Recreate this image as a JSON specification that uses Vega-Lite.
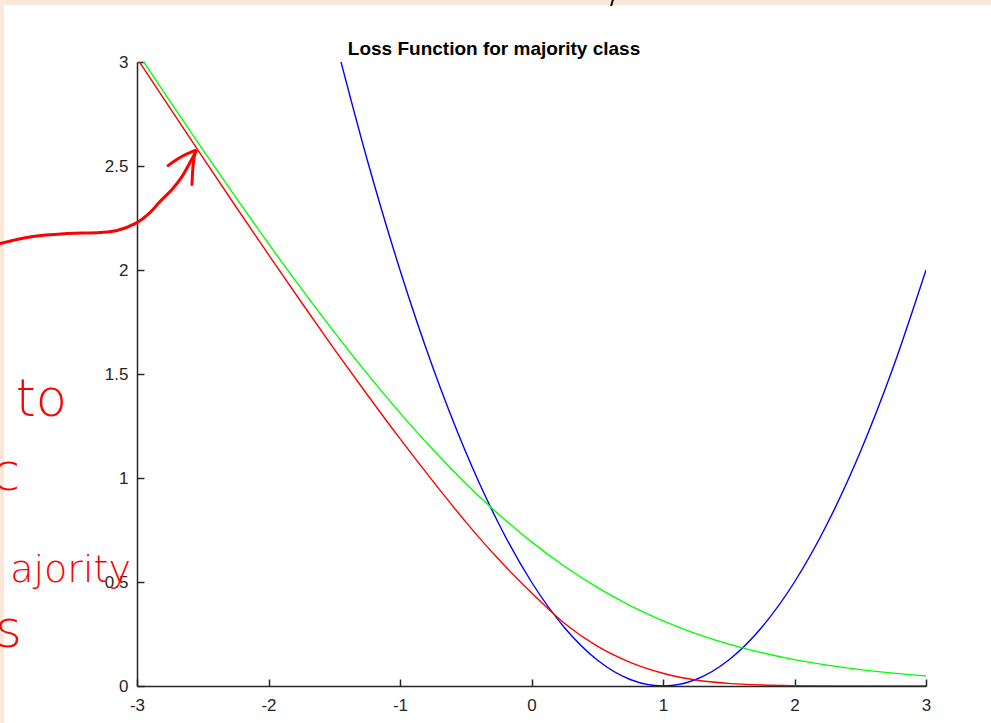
{
  "$schema": "https://vega.github.io/schema/vega-lite/v6.json",
  "width": 789,
  "height": 624,
  "autosize": {"type": "none"},
  "padding": {"left": 137, "top": 62, "right": 65, "bottom": 37},
  "background": "#ffffff",
  "config": {"view": {"stroke": null}, "font": "Liberation Sans"},
  "datasets": {
    "paper": [
      {"part": "top", "x": -4.2, "x2": 3.7, "y": 3.274, "y2": 3.45},
      {"part": "left", "x": -4.2, "x2": -4.011, "y": -0.3, "y2": 3.45}
    ],
    "heading": [
      {"t": "Loss Function for majority class", "x": -0.285, "y": 3.034}
    ],
    "curves": [
      {"series": "quadratic", "x": -1.5, "y": 3.125},
      {"series": "quadratic", "x": -1.25, "y": 2.53125},
      {"series": "quadratic", "x": -1, "y": 2},
      {"series": "quadratic", "x": -0.75, "y": 1.53125},
      {"series": "quadratic", "x": -0.5, "y": 1.125},
      {"series": "quadratic", "x": -0.25, "y": 0.78125},
      {"series": "quadratic", "x": 0, "y": 0.5},
      {"series": "quadratic", "x": 0.25, "y": 0.28125},
      {"series": "quadratic", "x": 0.5, "y": 0.125},
      {"series": "quadratic", "x": 0.75, "y": 0.03125},
      {"series": "quadratic", "x": 1, "y": 0},
      {"series": "quadratic", "x": 1.25, "y": 0.03125},
      {"series": "quadratic", "x": 1.5, "y": 0.125},
      {"series": "quadratic", "x": 1.75, "y": 0.28125},
      {"series": "quadratic", "x": 2, "y": 0.5},
      {"series": "quadratic", "x": 2.25, "y": 0.78125},
      {"series": "quadratic", "x": 2.5, "y": 1.125},
      {"series": "quadratic", "x": 2.75, "y": 1.53125},
      {"series": "quadratic", "x": 3, "y": 2},
      {"series": "logistic", "x": -3, "y": 3.0486},
      {"series": "logistic", "x": -2.75, "y": 2.812},
      {"series": "logistic", "x": -2.5, "y": 2.5789},
      {"series": "logistic", "x": -2.25, "y": 2.3502},
      {"series": "logistic", "x": -2, "y": 2.1269},
      {"series": "logistic", "x": -1.75, "y": 1.9102},
      {"series": "logistic", "x": -1.5, "y": 1.7014},
      {"series": "logistic", "x": -1.25, "y": 1.5019},
      {"series": "logistic", "x": -1, "y": 1.3133},
      {"series": "logistic", "x": -0.75, "y": 1.1369},
      {"series": "logistic", "x": -0.5, "y": 0.9741},
      {"series": "logistic", "x": -0.25, "y": 0.8259},
      {"series": "logistic", "x": 0, "y": 0.6931},
      {"series": "logistic", "x": 0.25, "y": 0.5759},
      {"series": "logistic", "x": 0.5, "y": 0.4741},
      {"series": "logistic", "x": 0.75, "y": 0.3869},
      {"series": "logistic", "x": 1, "y": 0.3133},
      {"series": "logistic", "x": 1.25, "y": 0.2519},
      {"series": "logistic", "x": 1.5, "y": 0.2014},
      {"series": "logistic", "x": 1.75, "y": 0.1602},
      {"series": "logistic", "x": 2, "y": 0.1269},
      {"series": "logistic", "x": 2.25, "y": 0.1002},
      {"series": "logistic", "x": 2.5, "y": 0.0789},
      {"series": "logistic", "x": 2.75, "y": 0.062},
      {"series": "logistic", "x": 3, "y": 0.0486},
      {"series": "modified", "x": -3, "y": 3.018},
      {"series": "modified", "x": -2.75, "y": 2.779},
      {"series": "modified", "x": -2.5, "y": 2.5415},
      {"series": "modified", "x": -2.25, "y": 2.3065},
      {"series": "modified", "x": -2, "y": 2.074},
      {"series": "modified", "x": -1.75, "y": 1.845},
      {"series": "modified", "x": -1.5, "y": 1.62},
      {"series": "modified", "x": -1.25, "y": 1.4015},
      {"series": "modified", "x": -1, "y": 1.189},
      {"series": "modified", "x": -0.75, "y": 0.985},
      {"series": "modified", "x": -0.5, "y": 0.789},
      {"series": "modified", "x": -0.25, "y": 0.609},
      {"series": "modified", "x": 0, "y": 0.4485},
      {"series": "modified", "x": 0.25, "y": 0.3015},
      {"series": "modified", "x": 0.5, "y": 0.1915},
      {"series": "modified", "x": 0.75, "y": 0.114},
      {"series": "modified", "x": 1, "y": 0.0615},
      {"series": "modified", "x": 1.25, "y": 0.029},
      {"series": "modified", "x": 1.5, "y": 0.0125},
      {"series": "modified", "x": 1.75, "y": 0.005},
      {"series": "modified", "x": 2, "y": 0.0018},
      {"series": "modified", "x": 2.25, "y": 0.0006},
      {"series": "modified", "x": 2.5, "y": 0.0002},
      {"series": "modified", "x": 3, "y": 0}
    ],
    "ink": [
      {"stroke": "curve", "order": 1, "x": -4.042, "y": 2.127},
      {"stroke": "curve", "order": 2, "x": -3.791, "y": 2.161},
      {"stroke": "curve", "order": 3, "x": -3.532, "y": 2.175},
      {"stroke": "curve", "order": 4, "x": -3.281, "y": 2.18},
      {"stroke": "curve", "order": 5, "x": -3.152, "y": 2.19},
      {"stroke": "curve", "order": 6, "x": -3.0, "y": 2.228},
      {"stroke": "curve", "order": 7, "x": -2.916, "y": 2.267},
      {"stroke": "curve", "order": 8, "x": -2.825, "y": 2.329},
      {"stroke": "curve", "order": 9, "x": -2.734, "y": 2.387},
      {"stroke": "curve", "order": 10, "x": -2.658, "y": 2.449},
      {"stroke": "curve", "order": 11, "x": -2.597, "y": 2.517},
      {"stroke": "curve", "order": 12, "x": -2.551, "y": 2.57},
      {"stroke": "headleft", "order": 1, "x": -2.764, "y": 2.502},
      {"stroke": "headleft", "order": 2, "x": -2.673, "y": 2.541},
      {"stroke": "headleft", "order": 3, "x": -2.559, "y": 2.575},
      {"stroke": "headright", "order": 1, "x": -2.559, "y": 2.565},
      {"stroke": "headright", "order": 2, "x": -2.574, "y": 2.498},
      {"stroke": "headright", "order": 3, "x": -2.582, "y": 2.411}
    ],
    "pen": [
      {"stroke": "tick", "order": 1, "x": 0.62, "y": 3.3},
      {"stroke": "tick", "order": 2, "x": 0.605, "y": 3.269}
    ],
    "notes": [
      {"t": "to", "size": "big", "x": -3.532, "y": 1.3},
      {"t": "c", "size": "big", "x": -3.89, "y": 0.942},
      {"t": "s", "size": "big", "x": -3.875, "y": 0.1875},
      {"t": "ajority", "size": "small", "x": -3.046, "y": 0.5}
    ]
  },
  "encoding": {
    "x": {
      "field": "x",
      "type": "quantitative",
      "scale": {"domain": [-3, 3], "nice": false, "zero": false},
      "axis": {
        "title": null,
        "values": [-3, -2, -1, 0, 1, 2, 3],
        "labelExpr": "toString(datum.value)",
        "grid": false,
        "tickSize": -7,
        "tickWidth": 1.5,
        "tickColor": "#262626",
        "domainColor": "#262626",
        "domainWidth": 1.5,
        "labelFont": "Liberation Sans",
        "labelFontSize": 17,
        "labelColor": "#262626",
        "labelPadding": 18,
        "labelFlush": false,
        "labelOverlap": false
      }
    },
    "y": {
      "field": "y",
      "type": "quantitative",
      "scale": {"domain": [0, 3], "nice": false, "zero": false},
      "axis": {
        "title": null,
        "values": [0, 0.5, 1, 1.5, 2, 2.5, 3],
        "labelExpr": "toString(datum.value)",
        "grid": false,
        "tickSize": -7,
        "tickWidth": 1.5,
        "tickColor": "#262626",
        "domainColor": "#262626",
        "domainWidth": 1.5,
        "labelFont": "Liberation Sans",
        "labelFontSize": 17,
        "labelColor": "#262626",
        "labelPadding": 16,
        "labelFlush": false,
        "labelOverlap": false
      }
    }
  },
  "layer": [
    {
      "data": {"name": "paper"},
      "mark": {"type": "rect", "color": "#fce8da", "clip": false},
      "encoding": {"x2": {"field": "x2"}, "y2": {"field": "y2"}}
    },
    {
      "data": {"name": "curves"},
      "mark": {"type": "line", "clip": true, "strokeWidth": 1.4, "interpolate": "monotone"},
      "encoding": {
        "color": {
          "field": "series",
          "type": "nominal",
          "scale": {"domain": ["quadratic", "logistic", "modified"], "range": ["#0000ff", "#00ff00", "#ff0000"]},
          "legend": null
        }
      }
    },
    {
      "data": {"name": "heading"},
      "mark": {"type": "text", "clip": false, "color": "#000000", "font": "Liberation Sans", "fontWeight": "bold", "fontSize": 19, "align": "center", "baseline": "alphabetic"},
      "encoding": {"text": {"field": "t"}}
    },
    {
      "data": {"name": "ink"},
      "mark": {"type": "line", "clip": false, "color": "#ff0000", "strokeWidth": 3, "strokeCap": "round", "strokeJoin": "round", "interpolate": "catmull-rom"},
      "encoding": {
        "detail": {"field": "stroke", "type": "nominal"},
        "order": {"field": "order", "type": "quantitative"}
      }
    },
    {
      "data": {"name": "pen"},
      "mark": {"type": "line", "clip": false, "color": "#000000", "strokeWidth": 2},
      "encoding": {
        "detail": {"field": "stroke", "type": "nominal"},
        "order": {"field": "order", "type": "quantitative"}
      }
    },
    {
      "data": {"name": "notes"},
      "transform": [{"filter": "datum.size === 'big'"}],
      "mark": {"type": "text", "clip": false, "color": "#ff0000", "font": "DejaVu Sans", "fontWeight": 200, "fontSize": 51, "align": "right", "baseline": "alphabetic"},
      "encoding": {"text": {"field": "t"}}
    },
    {
      "data": {"name": "notes"},
      "transform": [{"filter": "datum.size === 'small'"}],
      "mark": {"type": "text", "clip": false, "color": "#ff0000", "font": "DejaVu Sans", "fontWeight": 200, "fontSize": 38, "align": "right", "baseline": "alphabetic"},
      "encoding": {"text": {"field": "t"}}
    }
  ]
}
